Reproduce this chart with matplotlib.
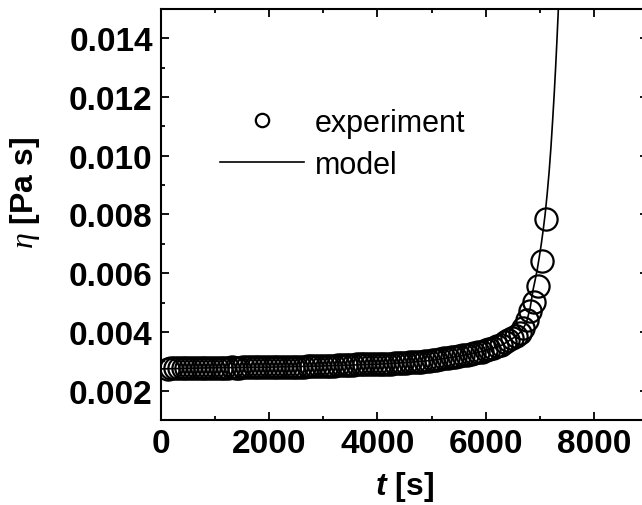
import matplotlib
matplotlib.use("Agg")
import matplotlib.pyplot as plt
from matplotlib.ticker import MultipleLocator

plt.rcParams['font.family'] = ['Liberation Sans', 'DejaVu Sans']
plt.rcParams['mathtext.fontset'] = 'custom'
plt.rcParams['mathtext.it'] = 'Liberation Serif:italic'
plt.rcParams['mathtext.bfit'] = 'Liberation Sans:italic:bold'
plt.rcParams['mathtext.rm'] = 'Liberation Sans:bold'

# measured viscosity vs time
t_exp = [120, 190, 260, 330, 400, 470, 540, 610, 680, 750,
         820, 890, 960, 1030, 1100, 1170, 1240, 1310, 1380, 1450,
         1520, 1590, 1660, 1730, 1800, 1870, 1940, 2010, 2080, 2150,
         2220, 2290, 2360, 2430, 2500, 2570, 2640, 2710, 2780, 2850,
         2920, 2990, 3060, 3130, 3200, 3270, 3340, 3410, 3480, 3550,
         3620, 3690, 3760, 3830, 3900, 3970, 4040, 4110, 4180, 4250,
         4320, 4390, 4460, 4530, 4600, 4670, 4740, 4810, 4880, 4950,
         5020, 5090, 5160, 5230, 5300, 5370, 5440, 5510, 5580, 5650,
         5720, 5790, 5860, 5930, 6000, 6070, 6140, 6210, 6280, 6350,
         6420, 6490, 6560, 6630, 6695, 6760, 6825, 6895, 6975, 7040,
         7117]
eta_exp = [0.00274, 0.00276, 0.00276, 0.00277, 0.00276, 0.00277, 0.00277, 0.00277, 0.00278, 0.00277,
           0.00277, 0.00278, 0.00278, 0.00278, 0.00278, 0.00278, 0.00278, 0.00279, 0.00278, 0.00278,
           0.00279, 0.00279, 0.00279, 0.00279, 0.00279, 0.00279, 0.00280, 0.00280, 0.00280, 0.00280,
           0.00280, 0.00281, 0.00281, 0.00281, 0.00282, 0.00282, 0.00282, 0.00283, 0.00283, 0.00283,
           0.00284, 0.00284, 0.00284, 0.00285, 0.00285, 0.00286, 0.00287, 0.00288, 0.00289, 0.00289,
           0.00290, 0.00290, 0.00290, 0.00290, 0.00290, 0.00290, 0.00291, 0.00291, 0.00291, 0.00292,
           0.00293, 0.00293, 0.00294, 0.00295, 0.00296, 0.00297, 0.00298, 0.00299, 0.00301, 0.00302,
           0.00304, 0.00306, 0.00308, 0.00310, 0.00312, 0.00314, 0.00316, 0.00318, 0.00320, 0.00322,
           0.00324, 0.00327, 0.00330, 0.00333, 0.00337, 0.00341, 0.00346, 0.00351, 0.00357, 0.00364,
           0.00371, 0.00378, 0.00387, 0.00398, 0.00413, 0.00440, 0.00472, 0.00502, 0.00558, 0.00641,
           0.00783]

# model curve
t_mod = [0, 1000, 2000, 3000, 4000, 4500, 5000, 5500, 6000, 6300,
         6500, 6650, 6750, 6820, 6876, 6913, 6950, 6987, 7024, 7061,
         7098, 7135, 7172, 7205, 7237, 7265, 7292, 7315, 7338, 7370]
eta_mod = [0.00274, 0.00278, 0.00280, 0.00284, 0.00290, 0.00295, 0.00303, 0.00317, 0.00336, 0.00355,
           0.00378, 0.00400, 0.00430, 0.00480, 0.00544, 0.00576, 0.00610, 0.00651, 0.00695, 0.00745,
           0.00800, 0.00868, 0.00945, 0.01027, 0.01120, 0.01207, 0.01300, 0.01387, 0.01480, 0.01630]

fig = plt.figure(figsize=(6.42, 5.06), dpi=100)
ax = fig.add_axes([0.2508, 0.168, 0.7586, 0.8123])

ax.plot(t_mod, eta_mod, '-', color='k', lw=1.2, label='model')
ax.plot(t_exp, eta_exp, 'o', mfc='none', mec='k', ms=16, mew=1.6, label='experiment')

ax.set_xlim(0, 9000)
ax.set_ylim(0.001, 0.015)
ax.xaxis.set_major_locator(MultipleLocator(2000))
ax.xaxis.set_minor_locator(MultipleLocator(1000))
ax.yaxis.set_minor_locator(MultipleLocator(0.001))
ax.set_yticks([0.002, 0.004, 0.006, 0.008, 0.010, 0.012, 0.014])
ax.set_yticklabels(['0.002', '0.004', '0.006', '0.008', '0.010', '0.012', '0.014'])

for s in ax.spines.values():
    s.set_linewidth(1.5)
ax.tick_params(which='both', direction='in', top=True, right=True, width=1.3)
ax.tick_params(which='major', length=5.5, labelsize=24, pad=6)
ax.tick_params(which='minor', length=3)
for lab in ax.get_xticklabels() + ax.get_yticklabels():
    lab.set_fontweight('bold')

ax.set_xlabel(r'$\mathbfit{t}$ [s]', fontsize=23, fontweight='bold')
ax.set_ylabel(r'$\eta$ [Pa s]', fontsize=23, fontweight='bold')
ax.xaxis.set_label_coords(0.5, -0.12)
ax.yaxis.set_label_coords(-0.245, 0.555)

h, l = ax.get_legend_handles_labels()
ax.legend([h[1], h[0]], [l[1], l[0]], loc='upper left',
          bbox_to_anchor=((220 - 161) / 487, (421 - 109) / 411),
          frameon=False, fontsize=22, markerscale=0.6, handlelength=2.75,
          handletextpad=0.35, labelspacing=0.38, borderpad=0, borderaxespad=0)

fig.savefig('out.png', dpi=100)
